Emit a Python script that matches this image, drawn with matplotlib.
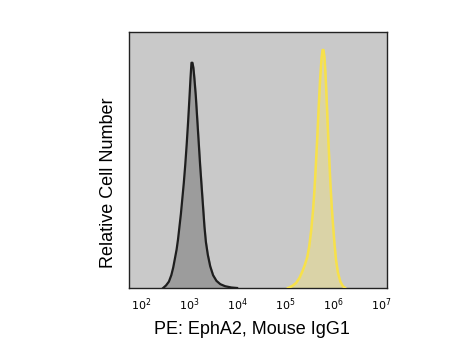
import matplotlib
matplotlib.use('Agg')
import matplotlib.pyplot as plt
import numpy as np

# Isotype control (gray) histogram, log10 fluorescence vs relative count
control_log = [2.46, 2.52, 2.58, 2.63, 2.67, 2.71, 2.74, 2.77, 2.80, 2.83, 2.86,
               2.89, 2.92, 2.95, 2.98, 3.01, 3.03, 3.05, 3.07, 3.09, 3.11, 3.14,
               3.17, 3.20, 3.23, 3.26, 3.29, 3.32, 3.35, 3.39, 3.44, 3.50, 3.57,
               3.65, 3.75, 3.88, 4.00]
control_cnt = [0.00, 0.01, 0.025, 0.05, 0.08, 0.12, 0.15, 0.19, 0.24, 0.29, 0.35,
               0.41, 0.48, 0.56, 0.65, 0.75, 0.82, 0.88, 0.88, 0.86, 0.82, 0.75,
               0.66, 0.57, 0.48, 0.40, 0.32, 0.24, 0.18, 0.13, 0.085, 0.05, 0.028,
               0.015, 0.007, 0.002, 0.00]

# EphA2 stained (yellow) histogram
epha2_log = [5.06, 5.15, 5.23, 5.30, 5.36, 5.41, 5.46, 5.50, 5.54, 5.58, 5.61,
             5.64, 5.67, 5.70, 5.73, 5.76, 5.78, 5.80, 5.82, 5.84, 5.86, 5.88,
             5.90, 5.92, 5.94, 5.97, 6.00, 6.03, 6.06, 6.10, 6.15, 6.20, 6.25]
epha2_cnt = [0.00, 0.008, 0.02, 0.04, 0.065, 0.09, 0.12, 0.16, 0.22, 0.30, 0.38,
             0.48, 0.59, 0.71, 0.82, 0.90, 0.93, 0.93, 0.90, 0.84, 0.76, 0.67,
             0.58, 0.50, 0.42, 0.32, 0.24, 0.17, 0.11, 0.06, 0.025, 0.008, 0.00]

tick_exps = [2, 3, 4, 5, 6, 7]

plt.rcParams['font.family'] = ['Liberation Sans', 'DejaVu Sans']

fig = plt.figure(figsize=(4.56, 3.6), dpi=100)
ax = fig.add_axes([0.283, 0.2, 0.566, 0.711])
ax.set_facecolor('#c9c9c9')

cx = 10 ** np.array(control_log)
ex = 10 ** np.array(epha2_log)

ax.fill_between(cx, control_cnt, color='#9c9c9c', zorder=2)
ax.plot(cx, control_cnt, color='#1e1e1e', linewidth=1.6, zorder=3)

ax.fill_between(ex, epha2_cnt, color='#efe07e', alpha=0.45, zorder=2)
ax.plot(ex, epha2_cnt, color='#f7e14a', linewidth=1.8, zorder=3)

ax.set_xscale('log')
ax.set_xlim(10 ** 1.75, 10 ** 7.125)
ax.set_ylim(0, 1.0)

ax.set_xticks([10 ** e for e in tick_exps])
ax.set_xticklabels([r'$10^{%d}$' % e for e in tick_exps], fontsize=8)
ax.xaxis.set_minor_locator(matplotlib.ticker.NullLocator())
ax.tick_params(axis='x', length=0, pad=6)
ax.set_yticks([])

for s in ax.spines.values():
    s.set_color('#222222')
    s.set_linewidth(1.0)

ax.set_xlabel('PE: EphA2, Mouse IgG1', fontsize=13)
ax.xaxis.set_label_coords(0.475, -0.13)
ax.set_ylabel('Relative Cell Number', fontsize=13)
ax.yaxis.set_label_coords(-0.047, 0.41)

fig.savefig('out.png', dpi=100)
